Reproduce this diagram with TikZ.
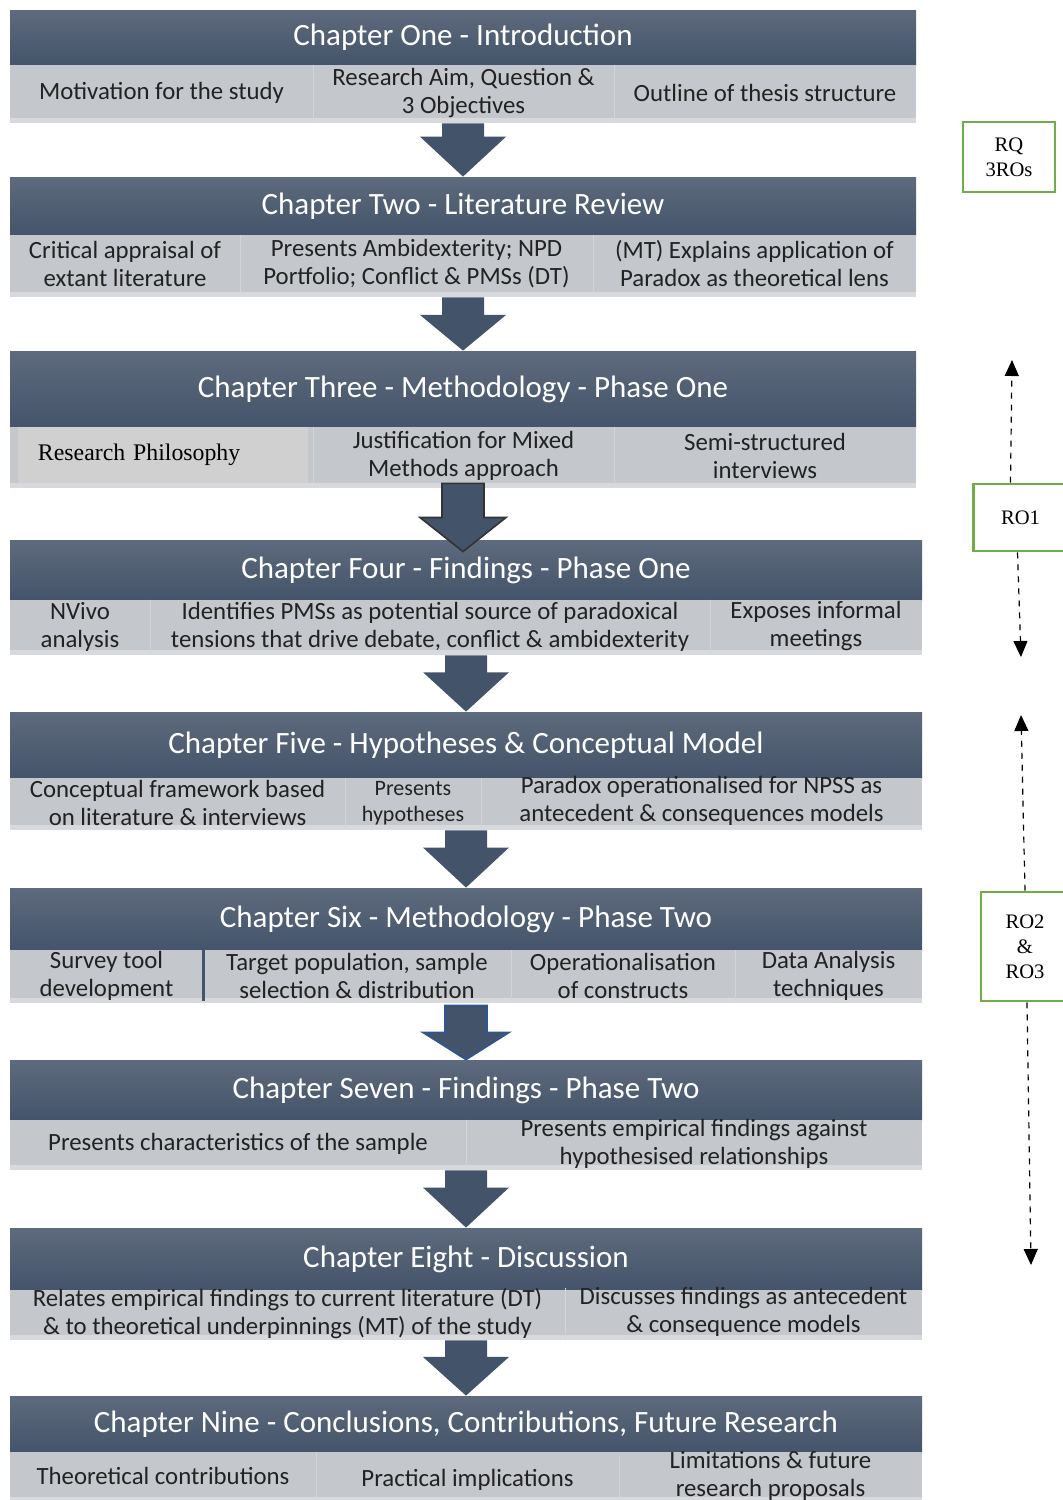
\documentclass[tikz,border=0pt]{standalone}
\usepackage{fontspec}
\setmainfont{Carlito}
\newfontfamily\timesfont{Liberation Serif}
\usetikzlibrary{calc,arrows.meta}

\definecolor{hdtop}{HTML}{5E6A7D}
\definecolor{hdbot}{HTML}{44546A}
\definecolor{cellgray}{HTML}{C4C7CB}
\definecolor{cellstrip}{HTML}{D7D9DC}
\definecolor{cellline}{HTML}{D2D4D7}
\definecolor{arrowfill}{HTML}{435369}
\definecolor{philgray}{HTML}{D0D0D0}
\definecolor{robox}{HTML}{70AD47}
\definecolor{arrowblue}{HTML}{2F5597}
\definecolor{celltext}{HTML}{222222}

\tikzset{
  header/.style={draw=none, top color=hdtop, bottom color=hdbot, text=white,
    font=\fontsize{15.5}{18}\selectfont, inner sep=0pt},
  rowbg/.style={fill=cellgray, draw=none, inner sep=0pt},
  cell/.style={draw=none, inner sep=0pt, align=center, text=celltext,
    font=\fontsize{12.4}{14}\selectfont},
  sepline/.style={draw=cellline, line width=0.6pt},
  blockarrow/.style={fill=arrowfill, draw=none},
  objbox/.style={draw=robox, line width=1.3pt, fill=white, align=center,
    font=\timesfont\fontsize{10.3}{12.5}\selectfont, inner sep=0pt},
  objlink/.style={dashed, line width=0.6pt, -{Triangle[width=7pt,length=8pt]}}
}

% chapter title bar: name, x1, x2, y1, y2, title
\newcommand{\headbar}[6]{%
  \node[header,minimum width={(#3-#2)*0.5pt},minimum height={(#5-#4)*0.5pt}]
    (#1) at ({(#2+#3)/2},{(#4+#5)/2}) {#6};}
% grey band under a title bar, with its lighter lower edge
\newcommand{\rowband}[5]{%
  \node[rowbg,minimum width={(#3-#2)*0.5pt},minimum height={(#5-#4)*0.5pt}]
    (#1) at ({(#2+#3)/2},{(#4+#5)/2}) {};
  \fill[cellstrip] ([yshift=2.5pt]#1.south west) rectangle (#1.south east);}
% one text cell of a band
\newcommand{\cellbox}[7][]{%
  \node[cell,#1,minimum width={(#4-#3)*0.5pt},minimum height={(#6-#5)*0.5pt}]
    (#2) at ({(#3+#4)/2},{(#5+#6)/2}) {#7};}
\newcommand{\cellsep}[1]{\draw[sepline] (#1.north east) -- (#1.south east);}
% downward block arrow from one node anchor to another
\newcommand{\blockarrow}[4][]{%
  \path[blockarrow,#1] let \p1=(#2), \p2=(#3), \n1={\y1+#4*(\y2-\y1)} in
    (\x1-10.5pt,\y1) -- (\x1+10.5pt,\y1) -- (\x1+10.5pt,\n1)
    -- (\x1+21.5pt,\n1) -- (\x1,\y2) -- (\x1-21.5pt,\n1)
    -- (\x1-10.5pt,\n1) -- cycle;}

\begin{document}
\begin{tikzpicture}[x=0.5pt,y=-0.5pt]
\useasboundingbox (0,0) rectangle (1063,1500);

% ---------- Chapter One
\headbar{h1}{10}{916}{10}{65}{Chapter One - Introduction}
\rowband{s1}{10}{916}{65}{123}
\cellbox{c11}{10}{313}{65}{121}{Motivation for the study}
\cellbox{c12}{313}{614}{65}{121}{Research Aim, Question \&\\3 Objectives}
\cellbox{c13}{614}{916}{65}{121}{Outline of thesis structure}
\cellsep{c11}\cellsep{c12}

% ---------- Chapter Two
\headbar{h2}{10}{916}{177}{235}{Chapter Two - Literature Review}
\rowband{s2}{10}{916}{235}{297}
\cellbox{c21}{10}{240}{235}{293}{Critical appraisal of\\extant literature}
\cellbox{c22}{240}{593}{235}{293}{Presents Ambidexterity; NPD\\Portfolio; Conflict \& PMSs (DT)}
\cellbox{c23}{593}{916}{235}{293}{(MT) Explains application of\\Paradox as theoretical lens}
\cellsep{c21}\cellsep{c22}

% ---------- Chapter Three
\headbar{h3}{10}{916}{351}{427}{Chapter Three - Methodology - Phase One}
\rowband{s3}{10}{916}{427}{488}
\node[fill=philgray, draw=none, inner ysep=0pt, inner xsep=10pt, text width=125pt,
  align=left, minimum height=28pt, font=\timesfont\fontsize{11.9}{14}\selectfont,
  text=black] (c31) at (163,455) {Research Philosophy};
\cellbox{c32}{313}{614}{427}{484}{Justification for Mixed\\Methods approach}
\cellbox{c33}{614}{916}{427}{484}{Semi-structured\\interviews}
\cellsep{c32}
\draw[sepline] ([xshift=2.5pt]c31.north east) -- ([xshift=2.5pt]c31.south east);

% ---------- Chapter Four
\headbar{h4}{10}{922}{540}{600}{Chapter Four - Findings - Phase One}
\rowband{s4}{10}{922}{600}{655}
\cellbox{c41}{10}{150}{600}{653}{NVivo\\analysis}
\cellbox{c42}{150}{710}{600}{653}{Identifies PMSs as potential source of paradoxical\\tensions that drive debate, conflict \& ambidexterity}
\cellbox{c43}{710}{922}{600}{653}{Exposes informal\\meetings}
\cellsep{c41}\cellsep{c42}

% ---------- Chapter Five
\headbar{h5}{10}{922}{712}{778}{Chapter Five - Hypotheses \& Conceptual Model}
\rowband{s5}{10}{922}{778}{830}
\cellbox{c51}{10}{345}{778}{828}{Conceptual framework based\\on literature \& interviews}
\cellbox[font=\fontsize{11}{13}\selectfont]{c52}{345}{481}{778}{828}{Presents\\hypotheses}
\cellbox{c53}{481}{922}{776}{826}{Paradox operationalised for NPSS as\\antecedent \& consequences models}
\cellsep{c51}\cellsep{c52}

% ---------- Chapter Six
\headbar{h6}{10}{922}{888}{950}{Chapter Six - Methodology - Phase Two}
\rowband{s6}{10}{922}{950}{1003}
\cellbox{c61}{10}{203}{950}{1001}{Survey tool\\development}
\cellbox{c62}{203}{511}{950}{1001}{Target population, sample\\selection \& distribution}
\cellbox{c63}{511}{735}{950}{1001}{Operationalisation\\of constructs}
\cellbox{c64}{735}{922}{950}{1001}{Data Analysis\\techniques}
\draw[draw=hdbot, line width=1.5pt] (c61.north east) -- (c61.south east);
\cellsep{c62}\cellsep{c63}

% ---------- Chapter Seven
\headbar{h7}{10}{922}{1060}{1120}{Chapter Seven - Findings - Phase Two}
\rowband{s7}{10}{922}{1120}{1170}
\cellbox{c71}{10}{466}{1120}{1168}{Presents characteristics of the sample}
\cellbox{c72}{466}{922}{1120}{1168}{Presents empirical findings against\\hypothesised relationships}
\cellsep{c71}

% ---------- Chapter Eight
\headbar{h8}{10}{922}{1228}{1290}{Chapter Eight - Discussion}
\rowband{s8}{10}{922}{1290}{1340}
\cellbox{c81}{10}{565}{1290}{1338}{Relates empirical findings to current literature (DT)\\\& to theoretical underpinnings (MT) of the study}
\cellbox{c82}{565}{922}{1290}{1334}{Discusses findings as antecedent\\\& consequence models}
\cellsep{c81}

% ---------- Chapter Nine
\headbar{h9}{10}{922}{1396}{1452}{Chapter Nine - Conclusions, Contributions, Future Research}
\rowband{s9}{10}{922}{1452}{1502}
\cellbox{c91}{10}{316}{1452}{1500}{Theoretical contributions}
\cellbox{c92}{316}{619}{1456}{1504}{Practical implications}
\cellbox{c93}{619}{922}{1452}{1500}{Limitations \& future\\research proposals}
\cellsep{c91}\cellsep{c92}

% ---------- flow arrows between chapters
\blockarrow{s1.south}{h2.north}{0.25}
\blockarrow{s2.south}{h3.north}{0.33}
\blockarrow[draw=black!80, line width=0.8pt]{[yshift=2.5pt]s3.south}{[yshift=-6pt]h4.north}{0.5}
\blockarrow{s4.south}{h5.north}{0.3}
\blockarrow{s5.south}{h6.north}{0.3}
\blockarrow[draw=arrowblue, line width=0.8pt]{[yshift=-1pt]s6.south}{h7.north}{0.5}
\blockarrow{s7.south}{h8.north}{0.3}
\blockarrow{s8.south}{h9.north}{0.3}

% ---------- research question and objectives
\node[objbox, minimum width=46pt, minimum height=35pt] (rq) at (1009,157) {RQ\\3ROs};
\node[objbox, minimum width=47pt, minimum height=33.5pt] (ro1) at (1020.5,517.5) {RO1};
\node[objbox, minimum width=44pt, minimum height=54.5pt] (ro23) at (1025,946.5) {RO2\\\&\\RO3};

\coordinate (ro1up) at (1012,360);
\coordinate (ro1dn) at (1021,657);
\coordinate (ro23up) at (1021,715);
\coordinate (ro23dn) at (1031,1265);
\draw[objlink] ([xshift=-5pt]ro1.north) -- (ro1up);
\draw[objlink] ([xshift=-1.5pt]ro1.south) -- (ro1dn);
\draw[objlink] (ro23.north) -- (ro23up);
\draw[objlink] ([xshift=1pt]ro23.south) -- (ro23dn);
\end{tikzpicture}
\end{document}
